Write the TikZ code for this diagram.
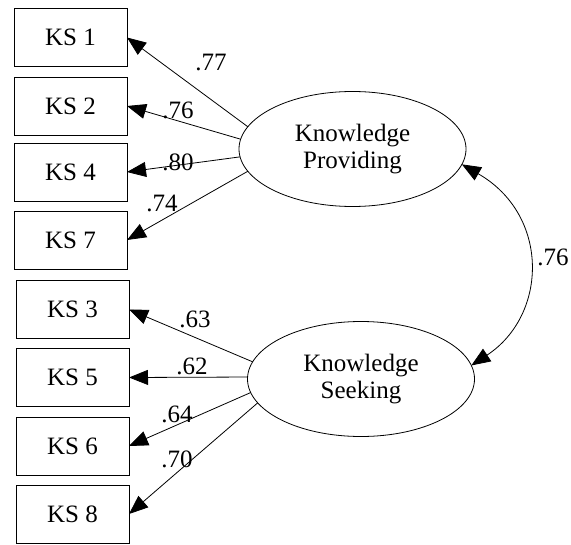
\documentclass[tikz,border=0pt]{standalone}
\usepackage{fontspec}
\setmainfont{Liberation Serif}
\usetikzlibrary{arrows.meta,shapes.geometric}
\begin{document}
\begin{tikzpicture}[x=1bp,y=-1bp,
  font=\fontsize{25bp}{27.5bp}\selectfont,
  indicator/.style={draw, line width=0.8bp, minimum width=113bp, minimum height=58bp,
    inner sep=0pt, outer sep=0pt},
  factor/.style={draw, ellipse, line width=0.8bp, minimum width=227bp, minimum height=115bp,
    inner sep=0pt, outer sep=0pt, align=center},
  loading/.style={line width=0.8bp, -{Triangle[length=19bp,width=15bp]}},
  coeff/.style={inner sep=0pt}]
\useasboundingbox (0,0) rectangle (571,545);

% latent factors
\node[factor] (kp) at (352.5,149) {Knowledge\\Providing};
\node[factor] (kseek) at (361,379) {Knowledge\\Seeking};

% indicators of Knowledge Providing
\node[indicator] (ks1) at (70.5,37.5) {KS 1};
\node[indicator] (ks2) at (70.5,106) {KS 2};
\node[indicator] (ks4) at (70.5,172) {KS 4};
\node[indicator] (ks7) at (70.5,240) {KS 7};

% indicators of Knowledge Seeking
\node[indicator] (ks3) at (72.5,309.5) {KS 3};
\node[indicator] (ks5) at (72.5,377.5) {KS 5};
\node[indicator] (ks6) at (72.5,446) {KS 6};
\node[indicator] (ks8) at (72.5,514) {KS 8};

% factor loadings
\draw[loading] (kp.168) -- (ks1.east);
\draw[loading] (kp.175.4) -- (ks2.east);
\draw[loading] (kp.184) -- (ks4.east);
\draw[loading] (kp.192) -- (ks7.east);

\draw[loading] (kseek.171) -- (ks3.east);
\draw[loading] (kseek.179) -- (ks5.east);
\draw[loading] (kseek.187) -- (ks6.east);
\draw[loading] (kseek.193) -- (ks8.east);

\node[coeff] (c1) at (211,62) {.77};
\node[coeff] (c2) at (178,110) {.76};
\node[coeff] (c4) at (178,162) {.80};
\node[coeff] (c7) at (162,203) {.74};

\node[coeff] (c3) at (195,319) {.63};
\node[coeff] (c5) at (192,366) {.62};
\node[coeff] (c6) at (177,414) {.64};
\node[coeff] (c8) at (177,459) {.70};

% factor correlation
\draw[line width=0.8bp, {Triangle[length=19bp,width=15bp]}-{Triangle[length=19bp,width=15bp]}]
  (kp.-8.3) .. controls (550,215) and (548,315) .. (kseek.7.3);
\node[coeff] (r) at (553,257) {.76};
\end{tikzpicture}
\end{document}
